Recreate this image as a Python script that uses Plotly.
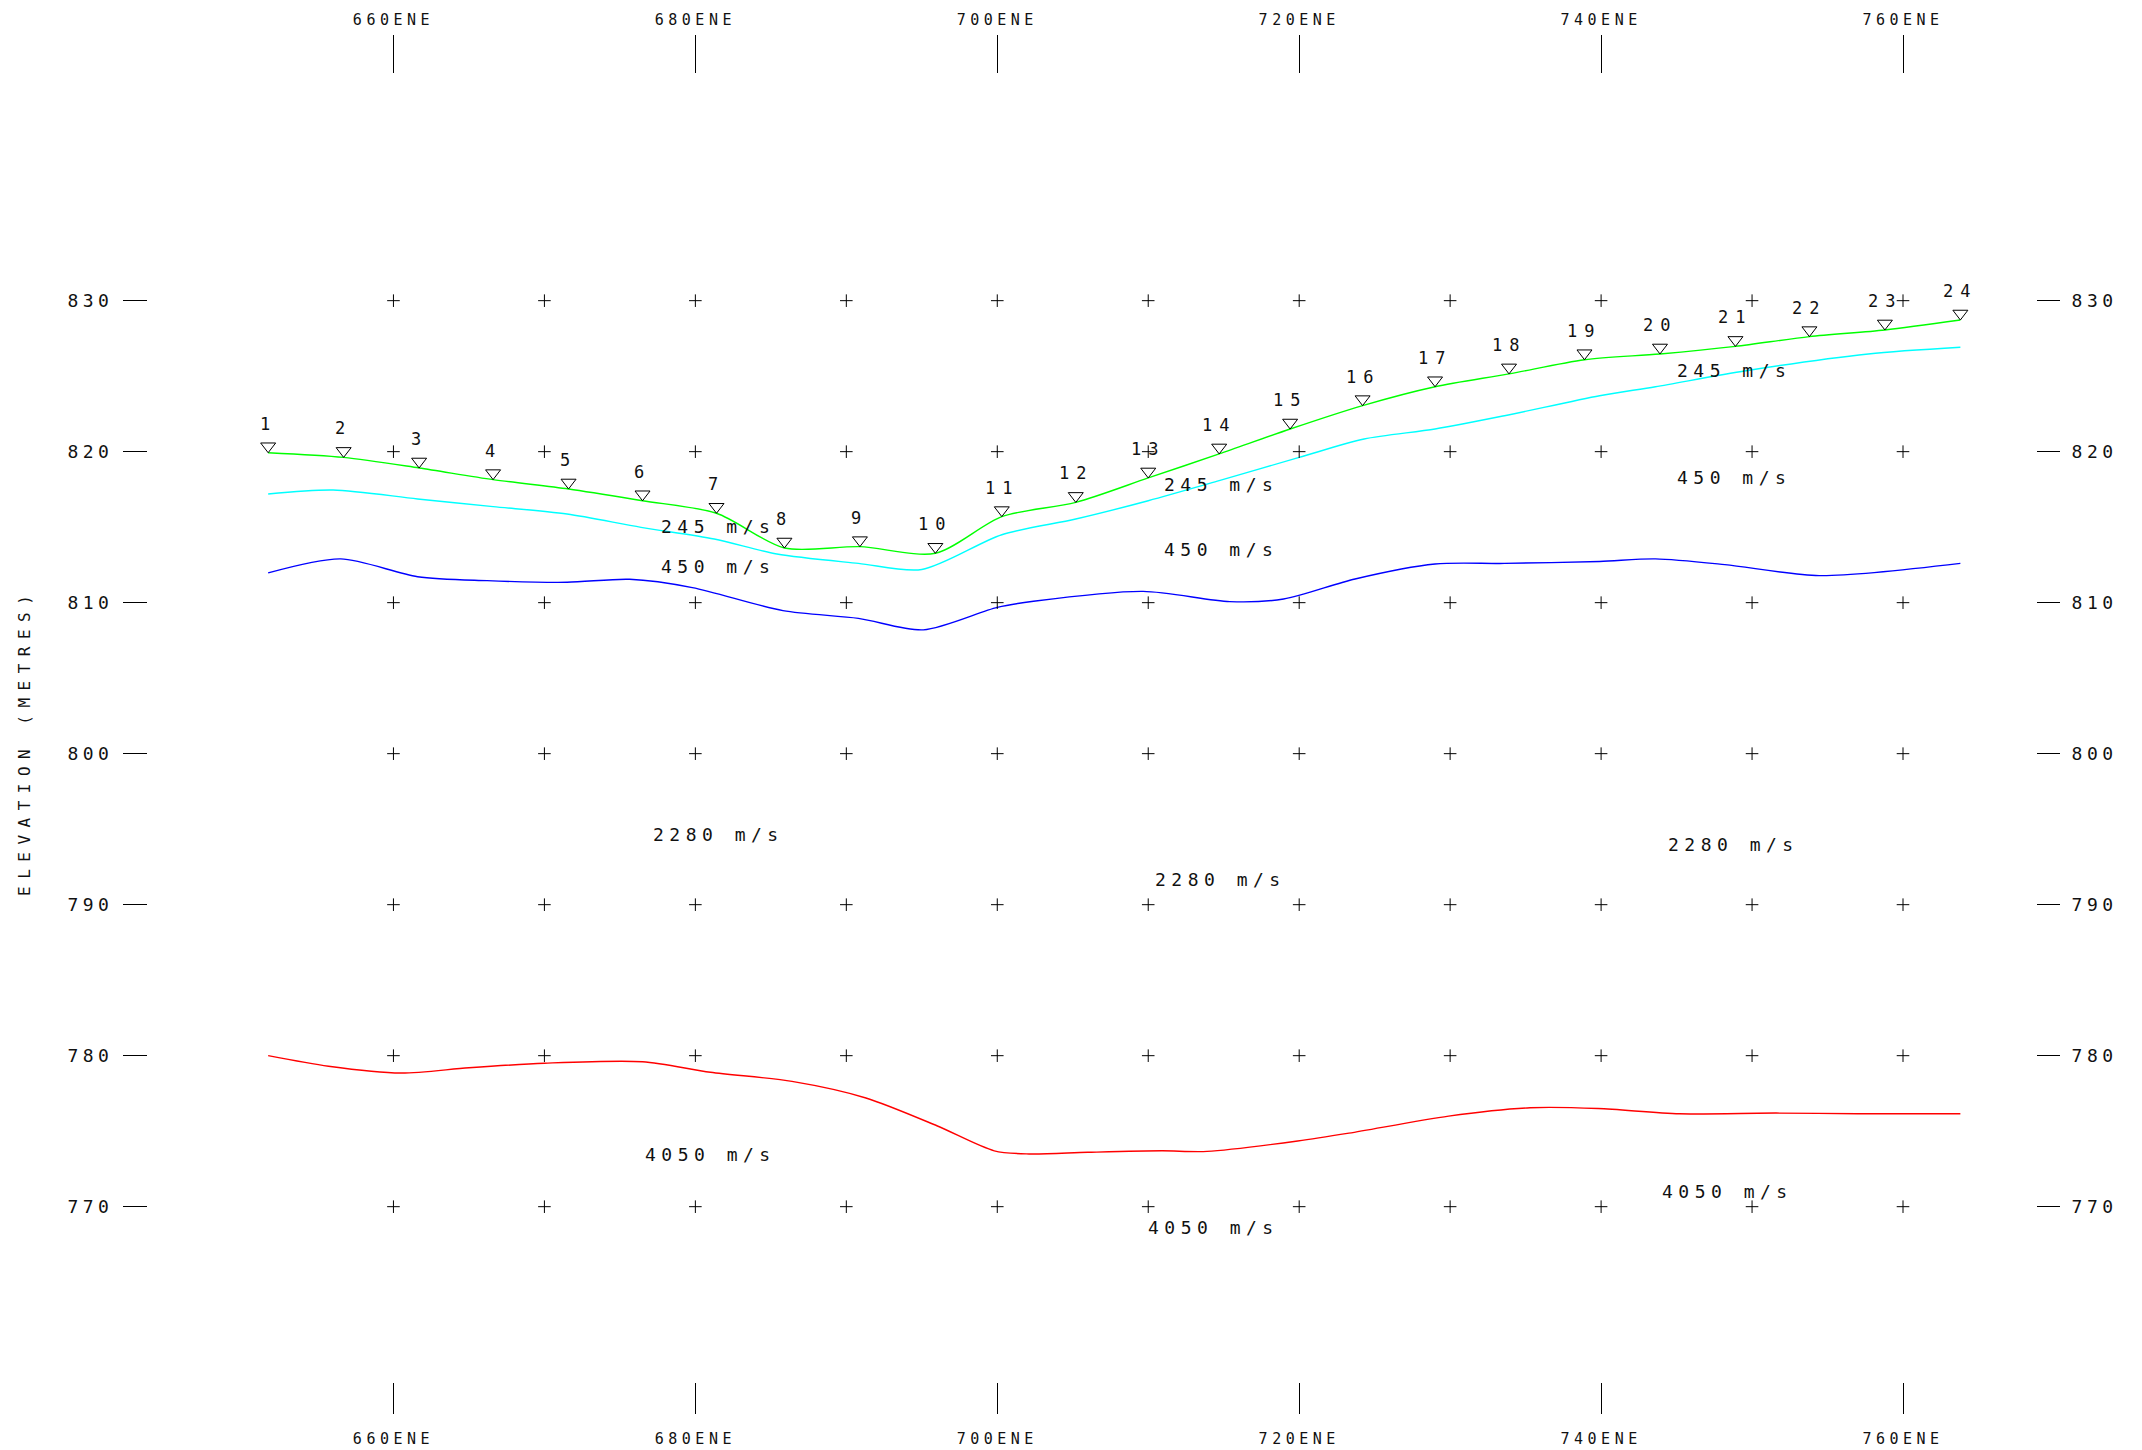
import plotly.graph_objects as go

# ---------------- data ----------------
station_labels = [str(i) for i in range(1, 25)]
station_x = [651.7, 656.7, 661.7, 666.6, 671.6, 676.5, 681.4, 685.9, 690.9, 695.9,
             700.3, 705.2, 710.0, 714.7, 719.4, 724.2, 729.0, 733.9, 738.9, 743.9,
             748.9, 753.8, 758.8, 763.8]
station_elev = [819.93, 819.62, 818.92, 818.15, 817.53, 816.75, 815.92, 813.62, 813.71, 813.27,
                815.70, 816.64, 818.26, 819.85, 821.50, 823.05, 824.30, 825.15, 826.09, 826.47,
                826.97, 827.62, 828.06, 828.72]

# base of 245 m/s layer (cyan)
cyan_x = [651.7, 656.0, 661.6, 666.6, 671.5, 676.4, 681.25, 685.4, 690.8, 695.0,
          700.3, 705.2, 710.0, 714.7, 720.0, 724.3, 729.0, 733.6, 739.9, 743.6,
          749.6, 757.7, 763.8]
cyan_y = [817.2, 817.46, 816.87, 816.36, 815.87, 814.99, 814.22, 813.22, 812.6, 812.2,
          814.5, 815.54, 816.75, 818.08, 819.62, 820.84, 821.5, 822.38, 823.7, 824.3,
          825.36, 826.47, 826.91]

# base of 450 m/s layer (blue)
blue_x = [651.7, 656.5, 661.6, 666.2, 671.5, 675.65, 679.8, 685.8, 690.8, 695.1,
          700.0, 702.4, 709.66, 715.4, 718.97, 723.7, 729.0, 733.6, 739.9, 743.6,
          748.2, 754.45, 763.8]
blue_y = [811.97, 812.9, 811.72, 811.46, 811.35, 811.55, 811.0, 809.47, 808.96, 808.2,
          809.69, 810.09, 810.75, 810.07, 810.24, 811.57, 812.56, 812.6, 812.73, 812.9,
          812.52, 811.79, 812.6]

# top of 4050 m/s layer (red)
red_x = [651.7, 655.7, 660.5, 665.0, 670.0, 676.5, 681.0, 686.4, 691.3, 696.0,
         699.8, 702.1, 706.0, 710.9, 713.9, 719.9, 723.3, 729.9, 735.3, 739.8,
         745.2, 751.6, 757.0, 763.8]
red_y = [780.0, 779.3, 778.85, 779.2, 779.5, 779.6, 778.9, 778.3, 777.2, 775.36,
         773.7, 773.49, 773.6, 773.7, 773.66, 774.35, 774.87, 776.0, 776.55, 776.5,
         776.15, 776.2, 776.15, 776.15]

velocity_text = ["245 m/s", "450 m/s", "245 m/s", "450 m/s", "245 m/s", "450 m/s",
                 "2280 m/s", "2280 m/s", "2280 m/s", "4050 m/s", "4050 m/s", "4050 m/s"]
velocity_x = [681.5, 681.5, 714.8, 714.8, 748.8, 748.8, 681.5, 714.8, 748.8, 681.0, 714.3, 748.4]
velocity_y = [815.03, 812.42, 817.84, 813.5, 825.35, 818.3, 794.68, 791.7, 793.96, 773.43, 768.63, 770.98]

x_ticks = [660, 680, 700, 720, 740, 760]
x_tick_labels = ["660ENE", "680ENE", "700ENE", "720ENE", "740ENE", "760ENE"]
y_ticks = [770, 780, 790, 800, 810, 820, 830]
y_tick_labels = ["770", "780", "790", "800", "810", "820", "830"]
grid_x = [660, 670, 680, 690, 700, 710, 720, 730, 740, 750, 760]
grid_y = [770, 780, 790, 800, 810, 820, 830]
y_title = "ELEVATION (METRES)"

# ---------------- layout constants ----------------
# the page body has an 8px margin, so the figure is drawn 8px in from the window corner
W, H = 2134, 1442
ML, MR, MT, MB = 140, 106, 66, 68
X_RANGE = [643.74, 768.81]
Y_RANGE = [758.39, 845.01]
px_per_m = (H - MT - MB) / (Y_RANGE[1] - Y_RANGE[0])
FONT = "DejaVu Sans Mono"
TXT = "#111111"


def sp(s, ls):
    return '<span style="letter-spacing:%spx">%s</span>' % (ls, s)


fig = go.Figure()

# grid crosses
gx, gy = [], []
for yv in grid_y:
    for xv in grid_x:
        gx.append(xv)
        gy.append(yv)
fig.add_trace(go.Scatter(x=gx, y=gy, mode="markers", xaxis="x2", yaxis="y2",
                         marker=dict(symbol="cross-thin-open", size=9,
                                     line=dict(width=1, color="black"), color="black"),
                         hoverinfo="skip", showlegend=False))

line_specs = [(red_x, red_y, "#ff0000"), (blue_x, blue_y, "#0000ff"),
              (cyan_x, cyan_y, "#00ffff"), (station_x, station_elev, "#00ff00")]
for lx, ly, col in line_specs:
    fig.add_trace(go.Scatter(x=lx, y=ly, mode="lines",
                             line=dict(color=col, width=1.4, shape="spline", smoothing=0.8),
                             hoverinfo="skip", showlegend=False))

# station triangles (apex sitting on the ground line)
tri_size = 13
tri_off = (tri_size / 2) / px_per_m
fig.add_trace(go.Scatter(x=station_x, y=[e + tri_off for e in station_elev], mode="markers",
                         marker=dict(symbol="triangle-down-open", size=tri_size,
                                     line=dict(width=1, color="black"), color="black"),
                         hoverinfo="skip", showlegend=False))

annotations = []
for lab, sx, se in zip(station_labels, station_x, station_elev):
    annotations.append(dict(x=sx, y=se, xref="x", yref="y", text=sp(lab, 7), showarrow=False,
                            yshift=29, xanchor="center", yanchor="middle",
                            font=dict(family=FONT, size=17, color=TXT)))
for t, vx, vy in zip(velocity_text, velocity_x, velocity_y):
    annotations.append(dict(x=vx, y=vy, xref="x", yref="y", text=sp(t, 5.5), showarrow=False,
                            xanchor="center", yanchor="middle",
                            font=dict(family=FONT, size=18, color=TXT)))
annotations.append(dict(x=(16 - ML) / (W - ML - MR), y=(H - MB - 734) / (H - MT - MB),
                        xref="paper", yref="paper", text=sp(y_title, 7.5), showarrow=False,
                        textangle=-90, xanchor="center", yanchor="middle",
                        font=dict(family=FONT, size=16, color=TXT)))

axis_common = dict(showgrid=False, zeroline=False, showline=False, ticks="outside",
                   tickcolor="black", tickwidth=1, automargin=False)
xlabels = [sp(t, 4.5) for t in x_tick_labels]
ylabels = [sp(t, 4.5) for t in y_tick_labels]

fig.update_layout(
    width=W, height=H, autosize=False,
    margin=dict(l=ML, r=MR, t=MT, b=MB, pad=0, autoexpand=False),
    paper_bgcolor="white", plot_bgcolor="white",
    showlegend=False,
    annotations=annotations,
    xaxis=dict(range=X_RANGE, tickvals=x_ticks, ticktext=xlabels, side="bottom", ticklen=31,
               ticklabelstandoff=12, tickfont=dict(family=FONT, size=15, color=TXT),
               **axis_common),
    xaxis2=dict(range=X_RANGE, tickvals=x_ticks, ticktext=xlabels, side="top", ticklen=38,
                overlaying="x", matches="x", ticklabelstandoff=4,
                tickfont=dict(family=FONT, size=15, color=TXT), **axis_common),
    yaxis=dict(range=Y_RANGE, tickvals=y_ticks, ticktext=ylabels, side="left", ticklen=24,
               ticklabelstandoff=6, tickfont=dict(family=FONT, size=18, color=TXT),
               **axis_common),
    yaxis2=dict(range=Y_RANGE, tickvals=y_ticks, ticktext=ylabels, side="right", ticklen=23,
                overlaying="y", matches="y", ticklabelstandoff=8,
                tickfont=dict(family=FONT, size=18, color=TXT), **axis_common),
)

fig.write_html("out.html")
